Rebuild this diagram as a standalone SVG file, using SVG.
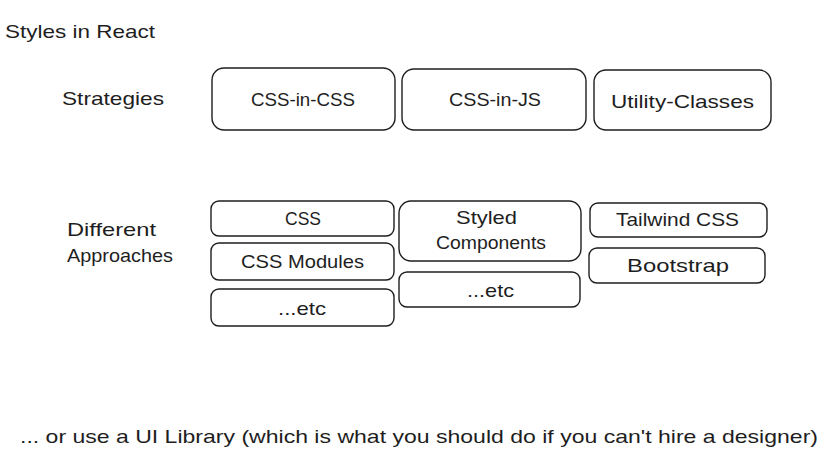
<svg xmlns="http://www.w3.org/2000/svg" width="840" height="471" viewBox="0 0 840 471">
<style>
.box{fill:#fff;stroke:#1e1e1e;stroke-width:1.4}
.t{font-family:"Liberation Sans",Arial,sans-serif;font-size:19px;fill:#1e1e1e}
.c{text-anchor:middle}
</style>
<rect width="840" height="471" fill="#fff"/>
<text class="t" x="5" y="38" textLength="150" lengthAdjust="spacingAndGlyphs">Styles in React</text>
<text class="t" x="62" y="105" textLength="102" lengthAdjust="spacingAndGlyphs">Strategies</text>
<text class="t" x="67" y="236" textLength="89" lengthAdjust="spacingAndGlyphs">Different</text>
<text class="t" x="67" y="262" textLength="106" lengthAdjust="spacingAndGlyphs">Approaches</text>
<g id="css-in-css"><rect class="box" x="212" y="68" width="183" height="62" rx="12"/><text class="t" x="251" y="106" textLength="104" lengthAdjust="spacingAndGlyphs">CSS-in-CSS</text></g>
<g id="css-in-js"><rect class="box" x="402" y="69" width="184" height="61" rx="12"/><text class="t" x="449" y="106" textLength="92" lengthAdjust="spacingAndGlyphs">CSS-in-JS</text></g>
<g id="utility"><rect class="box" x="594" y="70" width="177" height="60" rx="12"/><text class="t" x="611" y="108" textLength="143" lengthAdjust="spacingAndGlyphs">Utility-Classes</text></g>
<g id="css"><rect class="box" x="211" y="201" width="183" height="35" rx="8"/><text class="t" x="285" y="225" textLength="36" lengthAdjust="spacingAndGlyphs">CSS</text></g>
<g id="css-modules"><rect class="box" x="211" y="243" width="183" height="37" rx="8"/><text class="t" x="241" y="268" textLength="123" lengthAdjust="spacingAndGlyphs">CSS Modules</text></g>
<g id="etc1"><rect class="box" x="211" y="289" width="183" height="37" rx="8"/><text class="t" x="278" y="315" textLength="48" lengthAdjust="spacingAndGlyphs">...etc</text></g>
<g id="styled"><rect class="box" x="399" y="201" width="182" height="60" rx="12"/><text class="t" x="456" y="224" textLength="61" lengthAdjust="spacingAndGlyphs">Styled</text><text class="t" x="436" y="249" textLength="110" lengthAdjust="spacingAndGlyphs">Components</text></g>
<g id="etc2"><rect class="box" x="399" y="272" width="181" height="35" rx="8"/><text class="t" x="467" y="297" textLength="47" lengthAdjust="spacingAndGlyphs">...etc</text></g>
<g id="tailwind"><rect class="box" x="590" y="203" width="177" height="34" rx="8"/><text class="t" x="616" y="226" textLength="123" lengthAdjust="spacingAndGlyphs">Tailwind CSS</text></g>
<g id="bootstrap"><rect class="box" x="589" y="248" width="176" height="35" rx="8"/><text class="t" x="627" y="272" textLength="102" lengthAdjust="spacingAndGlyphs">Bootstrap</text></g>
<g id="connectors"></g>
<text class="t" x="20" y="443" textLength="798" lengthAdjust="spacingAndGlyphs">... or use a UI Library (which is what you should do if you can't hire a designer)</text>
</svg>
